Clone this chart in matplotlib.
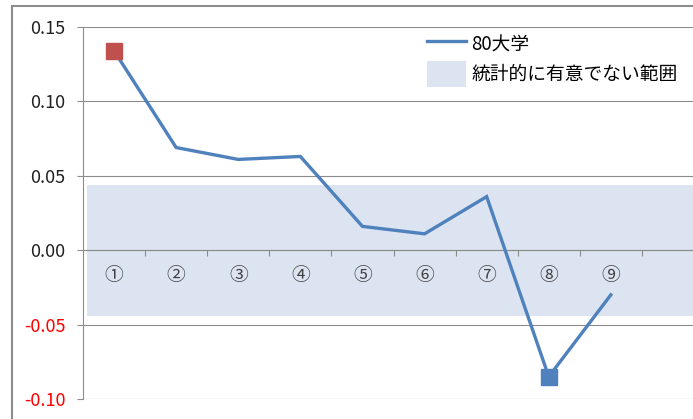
import matplotlib.pyplot as plt
from matplotlib.lines import Line2D
from matplotlib.patches import Patch, Rectangle

plt.rcParams['font.family'] = ['Noto Sans CJK JP', 'DejaVu Sans']

# data
categories = ['①', '②', '③', '④', '⑤', '⑥', '⑦', '⑧', '⑨']
values = [0.134, 0.069, 0.061, 0.063, 0.016, 0.011, 0.036, -0.085, -0.030]
band_limit = 0.044
yticks = [-0.10, -0.05, 0.00, 0.05, 0.10, 0.15]
n_slots = 10

blue = '#4F81BD'
red = '#C0504D'
band_color = '#DCE4F2'
grid_gray = '#8C8C8C'

W, H = 693, 419
fig = plt.figure(figsize=(W / 100, H / 100), dpi=100)
ax = fig.add_axes([83 / W, 1 - 399 / H, 621 / W, 372 / H])

# outer chart frame
fig.patches.append(Rectangle((12 / W, -0.1), 1.2, 1 - 6 / H + 0.1,
                             transform=fig.transFigure, fill=False,
                             edgecolor='#8C8C8C', linewidth=1.5))

x = list(range(len(categories)))

# band of non-significant values (kept under the axis lines)
ax.fill_between([-0.43, n_slots], -band_limit, band_limit,
                color=band_color, linewidth=0, zorder=0.2)

ax.plot(x, values, color=blue, linewidth=2.4, zorder=3,
        solid_joinstyle='miter')
ax.plot(x[0], values[0], 's', color=red, markersize=11.5, zorder=4)
imin = values.index(min(values))
ax.plot(x[imin], values[imin], 's', color=blue, markersize=11.5, zorder=4)

ax.set_xlim(-0.5, n_slots - 0.5)
ax.set_ylim(-0.10, 0.15)

ax.tick_params(axis='y', length=4.5, width=0.8, color=grid_gray, pad=8,
               labelsize=13)
ax.set_yticks(yticks)
ax.set_yticklabels([f'{v:.2f}' for v in yticks])
for lbl, v in zip(ax.get_yticklabels(), yticks):
    lbl.set_color('#FF0000' if v < 0 else '#222222')
ax.yaxis.grid(True, color=grid_gray, linewidth=0.8)
ax.set_axisbelow(True)

ax.tick_params(axis='x', which='major', length=0, pad=11,
               labelsize=13.5, labelcolor='#404040')
ax.tick_params(axis='x', which='minor', length=4, width=0.8,
               color=grid_gray, direction='out')
ax.set_xticks(x)
ax.set_xticklabels(categories)
ax.set_xticks([i + 0.5 for i in range(n_slots)], minor=True)

for s in ['top', 'right']:
    ax.spines[s].set_visible(False)
ax.spines['left'].set_color(grid_gray)
ax.spines['left'].set_linewidth(0.8)
ax.spines['bottom'].set_position(('data', 0))
ax.spines['bottom'].set_color(grid_gray)
ax.spines['bottom'].set_linewidth(0.8)

handles = [Line2D([], [], color=blue, linewidth=2.4),
           Patch(facecolor=band_color, edgecolor='none')]
fig.legend(handles, ['80大学', '統計的に有意でない範囲'],
           loc='upper left', bbox_to_anchor=(427 / W, 1 - 31 / H),
           frameon=False, fontsize=13.5, borderpad=0, borderaxespad=0,
           handlelength=2.08, handleheight=1.76, handletextpad=0.27,
           labelspacing=0.21)

fig.savefig('out.png', dpi=100)
